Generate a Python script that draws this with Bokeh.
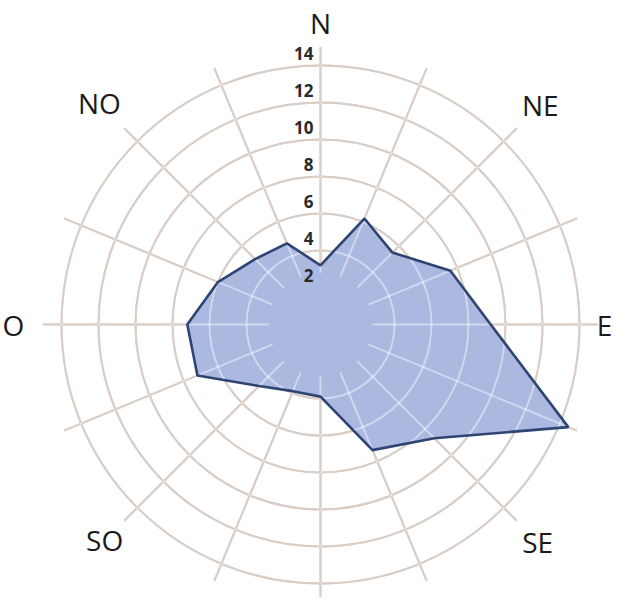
import numpy as np
from bokeh.plotting import figure
from bokeh.models import Range1d
from bokeh.core.properties import value
from bokeh.embed import file_html
from bokeh.resources import INLINE

# ---- data ----
directions = ["N", "NNE", "NE", "ENE", "E", "ESE", "SE", "SSE",
              "S", "SSO", "SO", "OSO", "O", "ONO", "NO", "NNO"]
frequency = [3.2, 6.2, 5.5, 7.6, 9.2, 14.5, 8.7, 7.35,
             3.9, 3.9, 4.7, 7.2, 7.2, 6.0, 5.0, 4.75]
ring_values = [2, 4, 6, 8, 10, 12, 14]
ring_labels = ["2", "4", "6", "8", "10", "12", "14"]
compass_labels = ["N", "NE", "E", "SE", "SO", "O", "NO"]
compass_angles = [0, 45, 90, 135, 225, 270, 315]
compass_radius = [16.3, 16.8, 15.35, 16.6, 16.5, 16.6, 16.9]

spoke_len = 15.0

theta = np.deg2rad(np.arange(len(directions)) * 22.5)
vals = np.array(frequency)
px = vals * np.sin(theta)
py = vals * np.cos(theta)

W, H = 615, 597
unit = 18.5
cx, cy = 320, 324
p = figure(width=W, height=H,
           x_range=Range1d(-cx / unit, (W - cx) / unit),
           y_range=Range1d(-(H - cy) / unit, cy / unit),
           output_backend="svg", toolbar_location=None,
           x_axis_type=None, y_axis_type=None, min_border=0)
p.outline_line_color = None
p.background_fill_color = "white"
p.border_fill_color = "white"

grid_col = "#bba698"

# base grid
p.circle(x=[0] * len(ring_values), y=[0] * len(ring_values), radius=ring_values,
         fill_color=None, line_color=grid_col, line_width=2)
p.segment(x0=np.zeros(16), y0=np.zeros(16),
          x1=spoke_len * np.sin(theta), y1=spoke_len * np.cos(theta),
          line_color=grid_col, line_width=2)

# filled polygon
p.patch(x=list(px), y=list(py), fill_color="#abb8e0", line_color=None)

# light overlay grid (appears whitish inside the polygon)
p.circle(x=[0] * 6, y=[0] * 6, radius=ring_values[1:],
         fill_color=None, line_color="white", line_alpha=0.45, line_width=2)
p.segment(x0=2.8 * np.sin(theta), y0=2.8 * np.cos(theta),
          x1=spoke_len * np.sin(theta), y1=spoke_len * np.cos(theta),
          line_color="white", line_alpha=0.45, line_width=2)

# outline
p.patch(x=list(px), y=list(py), fill_color=None, line_color="#2f4472", line_width=2.6)

# ring value labels
p.text(x=[-0.38] * len(ring_values), y=[v + 0.65 for v in ring_values], text=ring_labels,
       text_align="right", text_baseline="middle",
       text_font=value("Open Sans"), text_font_size="17px", text_font_style="bold",
       text_color="#2a2a2a")

# compass labels
ca = np.deg2rad(np.array(compass_angles))
cr = np.array(compass_radius)
p.text(x=cr * np.sin(ca), y=cr * np.cos(ca), text=compass_labels,
       text_align="center", text_baseline="middle",
       text_font=value("Open Sans"), text_font_size="28px",
       text_color="#1a1a1a")

open("out.html", "w").write(file_html(p, INLINE))
